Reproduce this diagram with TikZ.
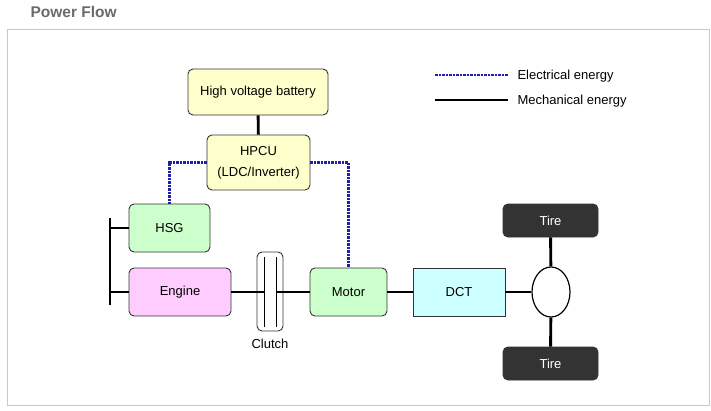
\documentclass[tikz,border=0pt]{standalone}
\usepackage{fontspec}
\setmainfont{Liberation Sans}
\usetikzlibrary{shapes.geometric}
\definecolor{framegray}{HTML}{C8C8C8}
\definecolor{titlegray}{HTML}{6A6A6A}
\definecolor{battyellow}{HTML}{FFFFCC}
\definecolor{boxgreen}{HTML}{CCFFCC}
\definecolor{boxpink}{HTML}{FFCCFF}
\definecolor{boxcyan}{HTML}{CCFFFF}
\definecolor{tiregray}{HTML}{333333}
\definecolor{elecblue}{HTML}{1F1FA8}
\tikzset{
  unit/.style={draw=tiregray, line width=0.9pt, rounded corners=5pt, inner sep=0pt, align=center,
    font=\fontsize{13}{21}\selectfont},
  mech/.style={line width=2.9pt, black},
  elec/.style={line width=2.9pt, elecblue, dash pattern=on 2.5pt off 1pt},
}
\begin{document}
\begin{tikzpicture}[x=1pt, y=-1pt]
    \useasboundingbox (0,0) rectangle (711,410);
    % Titel und Rahmen
    \node[anchor=west, text=titlegray, font=\fontsize{15.5}{18}\selectfont\bfseries] (title) at (27,12) {Power Flow};
    \draw[framegray, line width=1pt] (7,29) rectangle (709,405);

    % Elektrischer Teil
    \node[unit, fill=battyellow, minimum width=140pt, minimum height=46pt] (batt) at (258,92) {High voltage battery};
    \node[unit, fill=battyellow, minimum width=103pt, minimum height=55pt] (hpcu) at (258.5,162.5) {HPCU\\(LDC/Inverter)};
    \node[unit, fill=boxgreen, minimum width=81pt, minimum height=48pt] (hsg) at (169.5,228) {HSG};

    % Antriebsstrang
    \node[unit, fill=boxpink, minimum width=102pt, minimum height=48pt] (engine) at (180,292) {Engine};
    \node[unit, fill=white, minimum width=26pt, minimum height=79pt] (clutch) at (270,291.5) {};
    \node[font=\fontsize{13}{15}\selectfont, below=4pt] (clutchlbl) at (clutch.south) {Clutch};
    \node[unit, fill=boxgreen, minimum width=77pt, minimum height=48pt] (motor) at (348.5,292) {Motor};
    \node[unit, rounded corners=0pt, fill=boxcyan, minimum width=92pt, minimum height=48pt] (dct) at (459,292) {DCT};
    \node[draw, ellipse, line width=1.2pt, fill=white, minimum width=38pt, minimum height=50pt, inner sep=0pt] (diff) at (551,292) {};
    \node[unit, fill=tiregray, text=white, minimum width=95pt, minimum height=33pt] (tiretop) at (550.5,220.5) {Tire};
    \node[unit, fill=tiregray, text=white, minimum width=95pt, minimum height=33pt] (tirebot) at (550.5,363.5) {Tire};

    % Kupplungsscheiben und Welle
    \coordinate (barT) at (110,218);
    \coordinate (barB) at (110,305);
    \coordinate (plL) at (264,292);
    \coordinate (plR) at (276,292);
    \draw[line width=1pt] (264,257) -- (264,327);
    \draw[line width=1pt] (276,257) -- (276,327);

    % Mechanische Verbindungen
    \draw[mech] (barT) -- (barB);
    \draw[mech] (hsg.west) -- (hsg.west -| barT);
    \draw[mech] (engine.west) -- (engine.west -| barT);
    \draw[mech] (engine.east) -- (plL);
    \draw[mech] (plR) -- (motor.west);
    \draw[mech] (motor) -- (dct);
    \draw[mech] (dct) -- (diff);
    \draw[mech] (diff) -- (tiretop);
    \draw[mech] (diff) -- (tirebot);
    \draw[mech] (batt) -- (hpcu);

    % Elektrische Verbindungen
    \draw[elec] (hpcu.west) -| (hsg.north);
    \draw[elec] (hpcu.east) -| (motor.north);

    % Legende
    \coordinate (legE1) at (435,75);
    \coordinate (legE2) at (508,75);
    \coordinate (legM1) at (435,100);
    \coordinate (legM2) at (508,100);
    \draw[elec] (legE1) -- (legE2);
    \draw[mech] (legM1) -- (legM2);
    \node[anchor=west, font=\fontsize{13}{15}\selectfont] (legElbl) at (514,76.5) {Electrical energy};
    \node[anchor=west, font=\fontsize{13}{15}\selectfont] (legMlbl) at (514,101.5) {Mechanical energy};
\end{tikzpicture}
\end{document}
